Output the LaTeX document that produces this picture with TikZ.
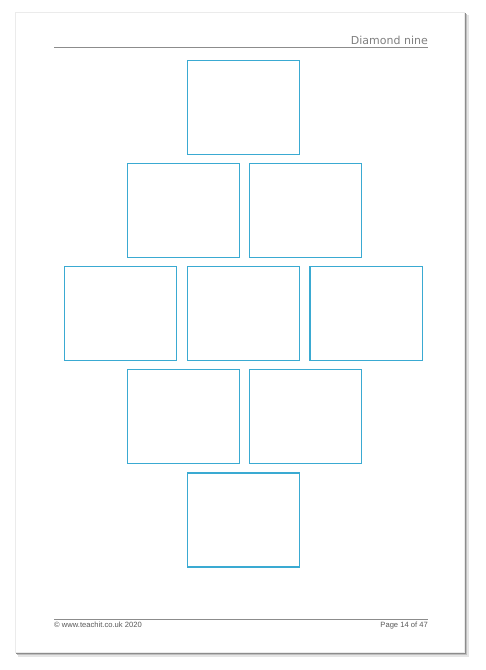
\documentclass[tikz,border=0pt]{standalone}
\usepackage{fontspec}
\newfontfamily\headfont{DejaVu Sans}
\newfontfamily\footfont{Liberation Sans}
\usepackage{tikz}
\usetikzlibrary{calc}
\definecolor{cardblue}{RGB}{58,170,210}
\tikzset{card/.style={draw=cardblue, line width=1.2pt, minimum width=112.5pt, minimum height=94pt, inner sep=0pt}}

\begin{document}
\begin{tikzpicture}[x=1pt,y=-1pt]
                      \useasboundingbox (0,0) rectangle (486,670);
                      \fill[white] (0,0) rectangle (486,670);
                      \fill[black!10] (18,15) rectangle (469,657);
                      \fill[black!25] (17,14) rectangle (467,655);
                      \fill[black!45] (16,13) rectangle (465.5,653.5);
                      \draw[black!8, fill=white] (15,12) rectangle (464,652);
                      \draw[black!45, line width=0.9pt] (54,47) -- (428,47);
                      \node[anchor=base east, text=black!50, font=\headfont\fontsize{11}{13}\selectfont, inner sep=0pt] (title) at (428,44.5) {Diamond nine};
                      \node[card] (top) at (243.5,107.2) {};
                      \node[card] (upl) at (183.6,210.6) {};
                      \node[card] (upr) at (305.6,210.6) {};
                      \node[card] (midl) at (120.5,313.4) {};
                      \node[card] (midc) at (243.4,313.4) {};
                      \node[card] (midr) at (366.3,313.4) {};
                      \node[card] (lowl) at (183.6,416.2) {};
                      \node[card] (lowr) at (305.6,416.2) {};
                      \node[card] (bottom) at (243.5,519.9) {};
                      \draw[black!45, line width=0.9pt] (54,619) -- (428,619);
                      \node[anchor=base west, text=black!65, font=\footfont\fontsize{7.6}{9}\selectfont, inner sep=0pt] (copy) at (54,627.5) {© www.teachit.co.uk 2020};
                      \node[anchor=base east, text=black!65, font=\footfont\fontsize{7.6}{9}\selectfont, inner sep=0pt] (page) at (428,627.5) {Page 14 of 47};
                  \end{tikzpicture}
\end{document}
